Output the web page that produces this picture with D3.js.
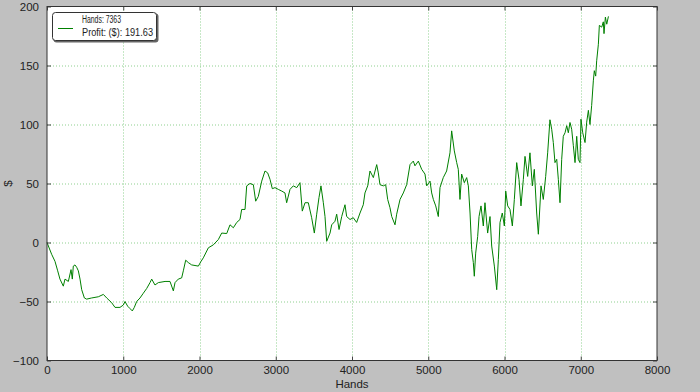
<!DOCTYPE html>
<html>
<head>
<meta charset="utf-8">
<script src="https://cdn.jsdelivr.net/npm/d3@7"></script>
<style>
    body { margin: 0; background: #c0c0c0; }
    svg { display: block; }
    text { font-family: "Liberation Sans", Arial, sans-serif; fill: #222; }
</style>
</head>
<body>
<div id="chart"></div>
<script>
// Hands played (x) and cumulative profit in $ (y)
const hands = [0, 61, 105, 140, 170, 214, 236, 280, 315, 332, 345, 367, 389, 411, 433, 455, 490, 520, 586, 673,
    739, 783, 848, 892, 957, 1001, 1023, 1058, 1089, 1119, 1145, 1176, 1220, 1263, 1307, 1351, 1373, 1416, 1460, 1548,
    1613, 1657, 1679, 1722, 1766, 1788, 1819, 1853, 1897, 1985, 2020, 2050, 2116, 2181, 2247, 2291, 2357, 2400, 2444, 2488,
    2531, 2553, 2597, 2619, 2662, 2706, 2737, 2771, 2816, 2859, 2894, 2925, 2955, 2990, 3034, 3078, 3121, 3143, 3187, 3230,
    3275, 3318, 3348, 3384, 3427, 3471, 3506, 3537, 3567, 3593, 3624, 3646, 3668, 3712, 3734, 3777, 3799, 3830, 3865, 3908,
    3930, 3974, 4017, 4061, 4105, 4148, 4170, 4206, 4236, 4280, 4324, 4345, 4367, 4411, 4442, 4468, 4498, 4521, 4564, 4586,
    4630, 4673, 4717, 4761, 4804, 4826, 4870, 4914, 4957, 4980, 5023, 5045, 5067, 5098, 5132, 5154, 5197, 5241, 5285, 5307,
    5342, 5373, 5394, 5416, 5438, 5473, 5504, 5526, 5548, 5570, 5591, 5604, 5622, 5648, 5666, 5692, 5722, 5744, 5779, 5810,
    5832, 5867, 5898, 5919, 5941, 5971, 5998, 6016, 6042, 6072, 6103, 6129, 6160, 6190, 6216, 6247, 6269, 6304, 6334, 6365,
    6391, 6422, 6444, 6479, 6509, 6540, 6566, 6596, 6619, 6640, 6662, 6685, 6706, 6728, 6750, 6771, 6794, 6816, 6837, 6859,
    6881, 6903, 6925, 6947, 6968, 6990, 7003, 7026, 7056, 7078, 7100, 7121, 7143, 7165, 7178, 7196, 7209, 7231, 7244, 7275,
    7296, 7305, 7323, 7341, 7363];
const profit = [0, -10, -16, -24, -31, -37, -31, -33, -23, -31, -20, -19, -21, -24, -31, -40, -47, -48, -47, -46,
    -44, -47, -51, -55, -55, -53, -50, -54, -56, -58, -55, -50, -47, -43, -39, -34, -31, -36, -34, -33,
    -33, -41, -34, -31, -30, -24, -15, -17, -19, -20, -16, -13, -4.5, -2, 2.5, 8, 7.6, 15, 12.5, 17,
    19.5, 28, 28, 48, 50, 49, 35, 39, 52, 60.6, 59, 53.5, 45.6, 46.5, 45, 43.6, 42, 33.7, 45, 48,
    46.5, 50.7, 26.6, 33.7, 33.7, 21, 8, 24, 38, 48, 33.7, 22, 1, 8, 15, 18, 24, 11, 22, 32,
    22, 19.5, 21, 17, 25, 32, 42, 48, 60.6, 55, 66, 59, 49, 48, 49, 36.5, 29.5, 22, 15, 24,
    36.5, 42, 49, 66, 69, 65, 69, 62, 58, 48, 52, 42, 36.5, 31, 22, 46.5, 55, 60.6, 76, 94.6,
    77.6, 67.7, 62, 36.5, 58, 50.7, 55, 48, 25, -6, -17, -28.6, -9, 5, 22, 31, 14, 33.7, 8, 22,
    -3, -20, -40, -14.5, 17, 25, 14, 43.6, 31, 28, 14, 36.5, 67.7, 53.5, 31, 53.5, 73, 56, 76, 48,
    62, 25, 7, 48, 36.5, 56, 76, 104, 96, 84.7, 67.7, 70.5, 53.5, 33.7, 70.5, 90, 93, 99, 93, 101.7,
    96, 82, 67.7, 90, 70.5, 67.7, 104.5, 93, 84.7, 102, 112, 100, 116, 137, 145.6, 141, 154, 168, 184, 182.5,
    187, 177, 191, 185, 191.63];

const xTicks = [0, 1000, 2000, 3000, 4000, 5000, 6000, 7000, 8000];
const yTicks = [-100, -50, 0, 50, 100, 150, 200];
const legendLabels = ['Hands: 7363', 'Profit: ($): 191.63'];

const margin = {top: 6.5, left: 47};
const width = 610, height = 354;

const svg = d3.select('#chart').append('svg')
    .attr('width', 700)
    .attr('height', 392);

const g = svg.append('g')
    .attr('transform', `translate(${margin.left},${margin.top})`);

const x = d3.scaleLinear().domain([0, 8000]).range([0, width]);
const y = d3.scaleLinear().domain([-100, 200]).range([height, 0]);

// plot background
g.append('rect')
    .attr('width', width)
    .attr('height', height)
    .attr('fill', '#fff');

// dotted grid
g.append('g').selectAll('line')
    .data(xTicks.slice(1, -1))
    .join('line')
        .attr('x1', d => Math.round(x(d)) + 0.5)
        .attr('x2', d => Math.round(x(d)) + 0.5)
        .attr('y1', 0).attr('y2', height)
        .attr('stroke', '#8fd08f')
        .attr('stroke-dasharray', '1,2');
g.append('g').selectAll('line')
    .data(yTicks.slice(1, -1))
    .join('line')
        .attr('y1', d => Math.round(y(d)) + 0.5)
        .attr('y2', d => Math.round(y(d)) + 0.5)
        .attr('x1', 0).attr('x2', width)
        .attr('stroke', '#8fd08f')
        .attr('stroke-dasharray', '1,2');

// profit line
const series = hands.map((h, i) => ({h, p: profit[i]}));
g.append('path')
    .datum(series)
    .attr('fill', 'none')
    .attr('stroke', '#008000')
    .attr('stroke-width', 1)
    .attr('stroke-linejoin', 'round')
    .attr('d', d3.line().x(d => x(d.h)).y(d => y(d.p)));

// axes with inward ticks, labels only on bottom/left
const fmt = d => d < 0 ? '\u2212' + Math.abs(d) : String(d);
const styleAxis = sel => {
    sel.select('.domain').remove();
    sel.selectAll('line').attr('stroke', '#444');
    sel.selectAll('text').style('font-size', '11.5px').style('font-family', '"Liberation Sans", Arial, sans-serif').attr('fill', '#222');
};

g.append('g')
    .attr('transform', `translate(0,${height})`)
    .call(d3.axisBottom(x).tickValues(xTicks).tickFormat(fmt).tickSizeInner(-4).tickSizeOuter(0).tickPadding(5))
    .call(styleAxis);
g.append('g')
    .call(d3.axisTop(x).tickValues(xTicks).tickFormat('').tickSizeInner(-4).tickSizeOuter(0))
    .call(styleAxis);
g.append('g')
    .call(d3.axisLeft(y).tickValues(yTicks).tickFormat(fmt).tickSizeInner(-4).tickSizeOuter(0).tickPadding(8))
    .call(styleAxis);
g.append('g')
    .attr('transform', `translate(${width},0)`)
    .call(d3.axisRight(y).tickValues(yTicks).tickFormat('').tickSizeInner(-4).tickSizeOuter(0))
    .call(styleAxis);

// frame
g.append('rect')
    .attr('width', width)
    .attr('height', height)
    .attr('fill', 'none')
    .attr('stroke', '#333')
    .attr('stroke-width', 1);

// axis titles
svg.append('text')
    .attr('x', margin.left + width / 2)
    .attr('y', 388)
    .attr('text-anchor', 'middle')
    .style('font-size', '11.5px')
    .text('Hands');
svg.append('text')
    .attr('transform', `translate(12,${margin.top + height / 2}) rotate(-90)`)
    .attr('text-anchor', 'middle')
    .style('font-size', '11.5px')
    .text('$');

// legend
const legend = svg.append('g').attr('transform', 'translate(52,12)');
legend.append('rect')
    .attr('x', 1.5).attr('y', 1.5)
    .attr('width', 105).attr('height', 29)
    .attr('rx', 3)
    .attr('fill', '#666');
legend.append('rect')
    .attr('x', 0.5).attr('y', 0.5)
    .attr('width', 104).attr('height', 28)
    .attr('rx', 3)
    .attr('fill', '#fff')
    .attr('stroke', '#333');
legend.append('line')
    .attr('x1', 6).attr('x2', 21)
    .attr('y1', 16.5).attr('y2', 16.5)
    .attr('stroke', '#008000')
    .attr('stroke-width', 1);
legend.selectAll('text.lbl')
    .data(legendLabels)
    .join('text')
        .attr('class', 'lbl')
        .attr('x', 30)
        .attr('y', (d, i) => 11 + i * 12.5)
        .attr('textLength', (d, i) => i === 0 ? 39 : 71)
        .attr('lengthAdjust', 'spacingAndGlyphs')
        .style('font-size', '10px')
        .text(d => d);
</script>
</body>
</html>
